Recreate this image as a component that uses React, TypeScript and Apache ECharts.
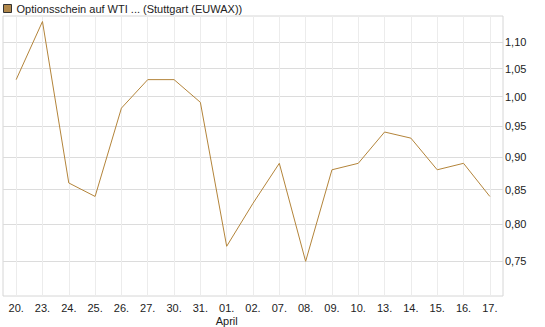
import React, { useEffect, useRef } from "react";
import * as echarts from "echarts";

const categories = ["20.", "23.", "24.", "25.", "26.", "27.", "30.", "31.", "01.", "02.", "07.", "08.", "09.", "10.", "13.", "14.", "15.", "16.", "17."];
const prices = [1.03, 1.14, 0.86, 0.84, 0.98, 1.03, 1.03, 0.99, 0.77, 0.83, 0.89, 0.75, 0.88, 0.89, 0.94, 0.93, 0.88, 0.89, 0.84];
const yTicks = [0.75, 0.8, 0.85, 0.9, 0.95, 1.0, 1.05, 1.1];
const monthLabel = "April";
const monthStartCategory = "01.";
const seriesName = "Optionsschein auf WTI ... (Stuttgart (EUWAX))";

const FONT = "'Liberation Sans', Arial, sans-serif";

export default function App() {
  const ref = useRef<HTMLDivElement>(null);
  useEffect(() => {
    if (!ref.current) return;
    const chart = echarts.init(ref.current, undefined, { renderer: "svg" });
    chart.setOption({
      animation: false,
      textStyle: { fontFamily: FONT },
      legend: {
        left: 0,
        top: 0,
        padding: [3, 3, 3, 3],
        itemWidth: 8,
        itemHeight: 8,
        itemGap: 5,
        icon: "rect",
        data: [
          {
            name: seriesName,
            itemStyle: { color: "#b0874a", borderColor: "#333", borderWidth: 1 },
          },
        ],
        textStyle: { fontFamily: FONT, fontSize: 11, color: "#222" },
      },
      grid: {
        left: 3,
        right: 42,
        top: 16,
        bottom: 26,
        show: true,
        borderColor: "#d6d6d6",
        borderWidth: 1,
      },
      xAxis: {
        type: "category",
        data: categories,
        boundaryGap: true,
        axisLine: { show: false },
        axisTick: { show: false, alignWithLabel: true },
        splitLine: { show: true, alignWithLabel: true, interval: 0, lineStyle: { color: "#ececec", width: 1 } },
        axisLabel: {
          interval: 0,
          margin: 5,
          fontFamily: FONT,
          fontSize: 11,
          lineHeight: 13,
          color: "#222",
          formatter: (v: string) => (v === monthStartCategory ? v + "\n" + monthLabel : v),
        },
      },
      yAxis: {
        type: "log",
        logBase: 10,
        position: "right",
        min: 0.706,
        max: 1.151,
        axisLine: { show: false },
        axisTick: { show: false, customValues: yTicks },
        splitLine: { show: true, lineStyle: { color: "#dcdcdc", width: 1 } },
        axisLabel: {
          customValues: yTicks,
          margin: 2,
          fontFamily: FONT,
          fontSize: 11,
          color: "#222",
          formatter: (v: number) => v.toFixed(2).replace(".", ","),
        },
      },
      series: [
        {
          name: seriesName,
          type: "line",
          data: prices,
          symbol: "none",
          lineStyle: { color: "#b3843a", width: 1 },
          itemStyle: { color: "#b0874a" },
        },
      ],
    });
    return () => chart.dispose();
  }, []);
  return <div ref={ref} style={{ width: 545, height: 327, position: "absolute", left: 0, top: 0 }} />;
}
